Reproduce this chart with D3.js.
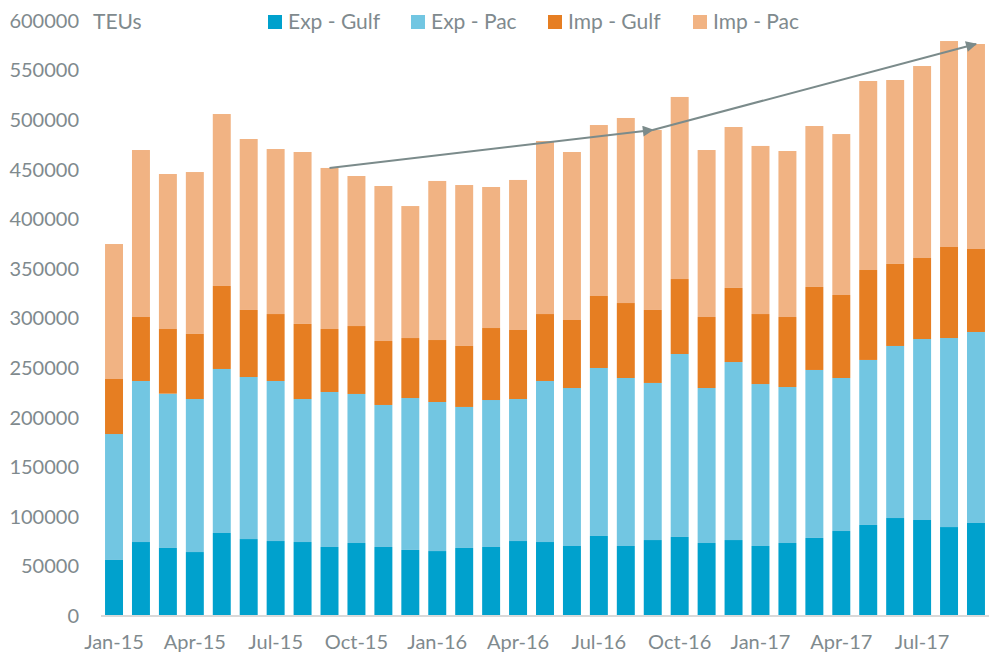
<!DOCTYPE html>
<html>
<head>
<meta charset="utf-8">
<script src="https://cdn.jsdelivr.net/npm/d3@7"></script>
<style>
  html, body { margin: 0; padding: 0; background: #fff; }
  svg { display: block; font-family: Lato, "Noto Sans", sans-serif; }
</style>
</head>
<body>
<svg id="chart" width="1007" height="669"></svg>
<script>
const months = ["Jan-15","Feb-15","Mar-15","Apr-15","May-15","Jun-15","Jul-15","Aug-15","Sep-15","Oct-15","Nov-15","Dec-15",
  "Jan-16","Feb-16","Mar-16","Apr-16","May-16","Jun-16","Jul-16","Aug-16","Sep-16","Oct-16","Nov-16","Dec-16",
  "Jan-17","Feb-17","Mar-17","Apr-17","May-17","Jun-17","Jul-17","Aug-17","Sep-17"];
const tickMonths = ["Jan-15","Apr-15","Jul-15","Oct-15","Jan-16","Apr-16","Jul-16","Oct-16","Jan-17","Apr-17","Jul-17"];
const yTicks = [0,50000,100000,150000,200000,250000,300000,350000,400000,450000,500000,550000,600000];
const seriesNames = ["Exp - Gulf","Exp - Pac","Imp - Gulf","Imp - Pac"];
const seriesColors = ["#00a1cd","#72c6e2","#e67e22","#f1b383"];

const expGulf = [56500,74600,68600,64500,83700,77600,75600,74600,69600,73600,69600,66600,65500,68600,69600,75600,
  74600,70600,80700,70600,76600,79700,73600,76600,70600,73600,78700,85700,91800,98800,96800,89700,93800];
const expPac = [127000,162400,155600,154300,165400,163400,161400,144200,156300,150300,143200,153200,150300,142200,148200,143200,
  162400,159300,169400,169400,158400,184500,156300,179500,163300,157300,169400,154300,166400,173500,182500,190600,192600];
const impGulf = [55500,64500,65200,65600,83700,67600,67500,75700,63500,68500,64500,60500,62500,61500,72600,69600,
  67500,68600,72600,75600,73600,75600,71600,74700,70600,70600,83700,83700,90700,82700,81700,91800,83700];
const impPac = [136100,168400,156300,163300,173400,172400,166400,173400,162400,151300,156300,133100,160400,162300,142200,151300,
  174500,169400,172400,186600,181500,183600,168400,162300,169500,167400,162300,162300,190600,185500,193600,207700,206700];

// trend arrows: from month to month (bar tops)
const arrows = [["Sep-15","Sep-16"],["Sep-16","Sep-17"]];

const svg = d3.select("#chart");
const textColor = "#7f8a8e";

const rows = months.map((m, i) => ({
  month: m,
  "Exp - Gulf": expGulf[i],
  "Exp - Pac": expPac[i],
  "Imp - Gulf": impGulf[i],
  "Imp - Pac": impPac[i]
}));
const totals = {};
rows.forEach(r => { totals[r.month] = seriesNames.reduce((s, k) => s + r[k], 0); });

const x = d3.scaleBand().domain(months).range([101, 989]).paddingInner(0.333).paddingOuter(0.15);
const y = d3.scaleLinear().domain([0, 600000]).range([616, 21]);
const color = d3.scaleOrdinal().domain(seriesNames).range(seriesColors);

const stack = d3.stack().keys(seriesNames)(rows);

svg.append("g").selectAll("g").data(stack).join("g")
  .attr("fill", d => color(d.key))
  .selectAll("rect").data(d => d).join("rect")
  .attr("x", d => x(d.data.month))
  .attr("width", x.bandwidth())
  .attr("y", d => y(d[1]))
  .attr("height", d => y(d[0]) - y(d[1]));

// baseline
svg.append("line")
  .attr("x1", x.range()[0]).attr("x2", x.range()[1])
  .attr("y1", y(0)).attr("y2", y(0))
  .attr("stroke", "#d9d9d9").attr("stroke-width", 2);

// y axis
const yAxis = d3.axisLeft(y).tickValues(yTicks).tickFormat(d3.format("d")).tickSize(0).tickPadding(0);
const gy = svg.append("g").attr("transform", "translate(79,0)").call(yAxis);
gy.select(".domain").remove();
gy.selectAll("text").attr("fill", textColor).style("font-size", "20px").style("font-family", "Lato, 'Noto Sans', sans-serif");

// x axis
const xAxis = d3.axisBottom(x).tickValues(tickMonths).tickSize(0).tickPadding(0);
const gx = svg.append("g").attr("transform", `translate(0,${y(0) + 19})`).call(xAxis);
gx.select(".domain").remove();
gx.selectAll("text").attr("fill", textColor).style("font-size", "20px").style("font-family", "Lato, 'Noto Sans', sans-serif");

// unit label
svg.append("text").attr("x", 93).attr("y", 29).attr("fill", textColor)
  .style("font-size", "21px").text("TEUs");

// legend
const legendX = [268, 411, 548, 693];
const lg = svg.append("g").selectAll("g").data(seriesNames).join("g")
  .attr("transform", (d, i) => `translate(${legendX[i]},15)`);
lg.append("rect").attr("width", 14).attr("height", 14).attr("fill", d => color(d));
lg.append("text").attr("x", 20).attr("y", 14).attr("fill", textColor)
  .style("font-size", "21px").text(d => d);

// arrows
const defs = svg.append("defs");
defs.append("marker").attr("id", "arrowhead")
  .attr("viewBox", "0 0 10 10").attr("refX", 9).attr("refY", 5)
  .attr("markerWidth", 6.5).attr("markerHeight", 5.5).attr("orient", "auto")
  .append("path").attr("d", "M0,0 L10,5 L0,10 Z").attr("fill", "#7b8b8b");

svg.append("g").selectAll("line").data(arrows).join("line")
  .attr("x1", d => x(d[0]) + x.bandwidth() / 2)
  .attr("y1", d => y(totals[d[0]]))
  .attr("x2", d => x(d[1]) + x.bandwidth() / 2)
  .attr("y2", d => y(totals[d[1]]))
  .attr("stroke", "#7b8b8b").attr("stroke-width", 2)
  .attr("marker-end", "url(#arrowhead)");
</script>
</body>
</html>
